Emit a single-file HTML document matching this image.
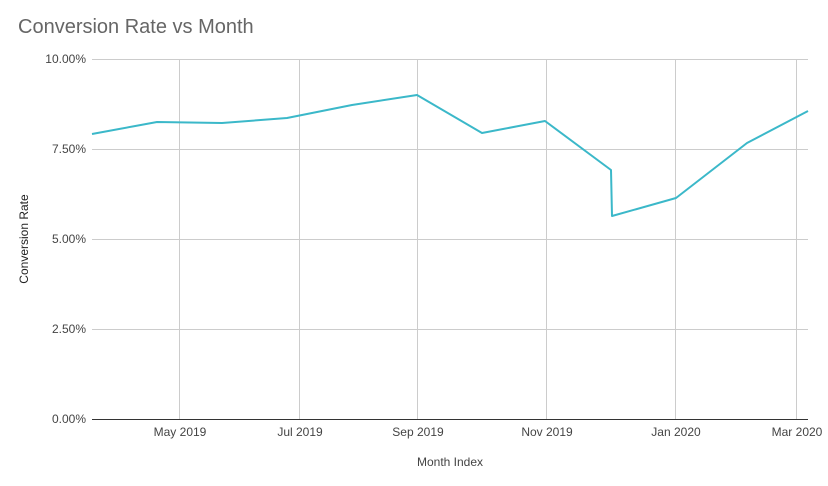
<!DOCTYPE html>
<html><head><style>
html,body{margin:0;padding:0;background:#fff;}
svg text{font-family:"Liberation Sans",sans-serif;}
</style></head><body>
<svg width="828" height="481" xmlns="http://www.w3.org/2000/svg">
<rect width="828" height="481" fill="#fff"/>
<text x="18" y="33" font-size="20" fill="#666">Conversion Rate vs Month</text>
<g stroke="#ccc" stroke-width="1">
<line x1="92" y1="59.5" x2="808" y2="59.5"/>
<line x1="92" y1="149.5" x2="808" y2="149.5"/>
<line x1="92" y1="239.5" x2="808" y2="239.5"/>
<line x1="92" y1="329.5" x2="808" y2="329.5"/>
<line x1="179.5" y1="59" x2="179.5" y2="419"/>
<line x1="299.5" y1="59" x2="299.5" y2="419"/>
<line x1="417.5" y1="59" x2="417.5" y2="419"/>
<line x1="546.5" y1="59" x2="546.5" y2="419"/>
<line x1="675.5" y1="59" x2="675.5" y2="419"/>
<line x1="796.5" y1="59" x2="796.5" y2="419"/>
</g>
<line x1="92" y1="419.5" x2="808" y2="419.5" stroke="#333" stroke-width="1"/>
<g font-size="12" fill="#444" text-anchor="end">
<text x="86" y="63">10.00%</text>
<text x="86" y="153">7.50%</text>
<text x="86" y="243">5.00%</text>
<text x="86" y="333">2.50%</text>
<text x="86" y="423">0.00%</text>
</g>
<g font-size="12" fill="#444" text-anchor="middle">
<text x="180" y="436">May 2019</text>
<text x="300" y="436">Jul 2019</text>
<text x="418" y="436">Sep 2019</text>
<text x="547" y="436">Nov 2019</text>
<text x="676" y="436">Jan 2020</text>
<text x="797" y="436">Mar 2020</text>
<text x="450" y="466">Month Index</text>
</g>
<text transform="translate(28,239) rotate(-90)" font-size="12" fill="#222" text-anchor="middle">Conversion Rate</text>
<polyline fill="none" stroke="#3bb8c9" stroke-width="2" stroke-linejoin="round"
points="92,134 157,122 222,123 287,118 352,105 417,95 482,133 545,121 611,170 612,216 676,198 747,143 808,111"/>
</svg>
</body></html>
